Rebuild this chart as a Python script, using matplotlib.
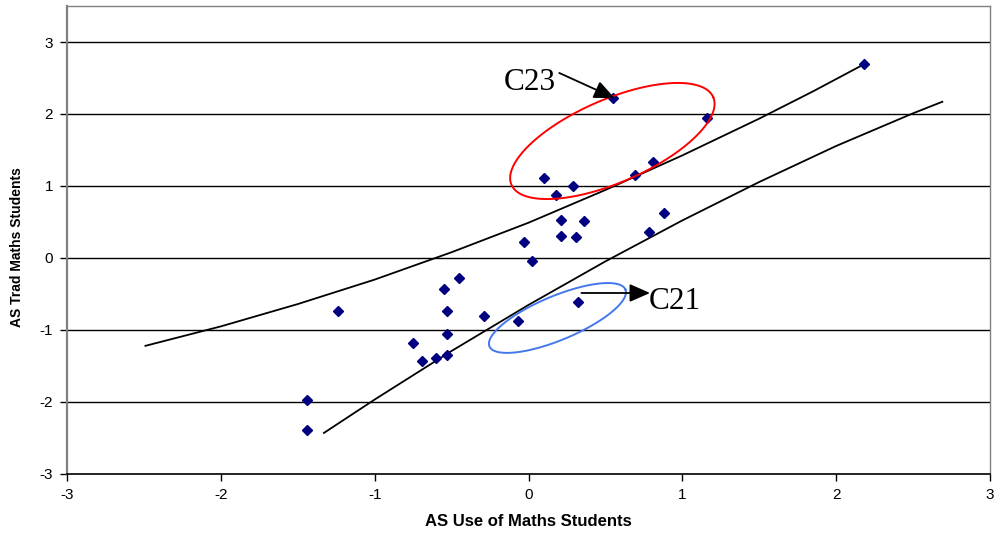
import numpy as np
import matplotlib
matplotlib.use('Agg')
import matplotlib.pyplot as plt

plt.rcParams['font.family'] = ['Liberation Sans', 'DejaVu Sans']

# scatter points (AS Use of Maths vs AS Trad Maths)
use_maths = [-1.44, -1.44, -1.24, -0.75, -0.69, -0.60, -0.53, -0.53, -0.53, -0.55,
             -0.45, -0.29, -0.07, -0.03, 0.02, 0.32, 0.10, 0.18, 0.29, 0.55,
             1.16, 0.69, 0.81, 0.21, 0.36, 0.21, 0.31, 0.88, 0.78, 2.18]
trad_maths = [-1.97, -2.39, -0.74, -1.18, -1.43, -1.39, -1.35, -1.06, -0.74, -0.43,
              -0.28, -0.81, -0.87, 0.22, -0.04, -0.61, 1.11, 0.88, 1.00, 2.22,
              1.94, 1.15, 1.33, 0.53, 0.51, 0.31, 0.29, 0.62, 0.36, 2.69]

# the two band curves
upper_x = [-2.49, -2.0, -1.5, -1.0, -0.5, 0.0, 0.5, 1.0, 1.5, 1.85, 2.18]
upper_y = [-1.22, -0.95, -0.64, -0.30, 0.08, 0.49, 0.945, 1.425, 1.936, 2.315, 2.69]
lower_x = [-1.33, -1.0, -0.5, 0.0, 0.5, 1.0, 1.5, 2.0, 2.5, 2.69]
lower_y = [-2.43, -1.966, -1.291, -0.652, -0.047, 0.522, 1.056, 1.556, 2.01, 2.17]

yticks = [-3, -2, -1, 0, 1, 2, 3]
xticks = [-3, -2, -1, 0, 1, 2, 3]

fig = plt.figure(figsize=(9.94, 5.36), dpi=100)
ax = fig.add_axes([0.0674, 0.1157, 0.9286, 0.8731])
ax.set_xlim(-3, 3)
ax.set_ylim(-3, 3.5)

for v in yticks[1:]:
    ax.axhline(v, color='black', lw=1.0, zorder=1)

ax.plot(upper_x, upper_y, color='black', lw=1.3, zorder=2)
ax.plot(lower_x, lower_y, color='black', lw=1.3, zorder=2)
ax.plot(use_maths, trad_maths, ls='none', marker='D', ms=5.6,
        color='#000080', mec='#000080', zorder=3)

# ellipses drawn in screen proportions (px -> data)
bb = ax.get_window_extent()
sx, sy = bb.width / 6.0, bb.height / 6.5


def ring(cx, cy, a, b, ang, color):
    t = np.linspace(0, 2 * np.pi, 300)
    th = np.radians(ang)
    dx = a * np.cos(t) * np.cos(th) - b * np.sin(t) * np.sin(th)
    dy = a * np.cos(t) * np.sin(th) + b * np.sin(t) * np.cos(th)
    ax.plot(cx + dx / sx, cy + dy / sy, color=color, lw=1.4, zorder=4)


ring(0.545, 1.625, 110, 41.5, 23.5, '#ff0000')
ring(0.188, -0.833, 73.7, 22, 22.7, '#4477ee')

arw = dict(arrowstyle='-|>,head_length=1.25,head_width=0.55', color='black',
           lw=1.3, mutation_scale=10, shrinkA=0, shrinkB=0)
ax.annotate('', xy=(0.56, 2.22), xytext=(0.20, 2.57), arrowprops=arw, zorder=5)
ax.annotate('', xy=(0.79, -0.486), xytext=(0.344, -0.486), arrowprops=arw, zorder=5)
ax.text(-0.16, 2.33, 'C23', family=['Liberation Serif', 'DejaVu Serif'],
        fontsize=22.5, ha='left', va='baseline', zorder=6)
ax.text(0.78, -0.71, 'C21', family=['Liberation Serif', 'DejaVu Serif'],
        fontsize=22.5, ha='left', va='baseline', zorder=6)

ax.set_yticks(yticks)
ax.set_xticks(xticks)
ax.set_yticklabels([str(v) for v in yticks])
ax.set_xticklabels([str(v) for v in xticks])
ax.tick_params(direction='out', length=5, width=1, labelsize=11, pad=5, color='black')

for s in ['left', 'top', 'right']:
    ax.spines[s].set_color('#808080')
ax.spines['left'].set_linewidth(1.6)
ax.spines['top'].set_linewidth(1.0)
ax.spines['right'].set_linewidth(1.0)
ax.spines['bottom'].set_color('black')
ax.spines['bottom'].set_linewidth(1.2)

narrow = ['Liberation Sans Narrow', 'Liberation Sans', 'DejaVu Sans']
ax.set_xlabel('AS Use of Maths Students', family=narrow, fontweight='bold',
              fontsize=12, labelpad=9)
ax.set_ylabel('AS Trad Maths Students', family=narrow, fontweight='bold',
              fontsize=10)
ax.yaxis.set_label_coords(-0.047, 0.485)

fig.savefig('out.png', dpi=100)
